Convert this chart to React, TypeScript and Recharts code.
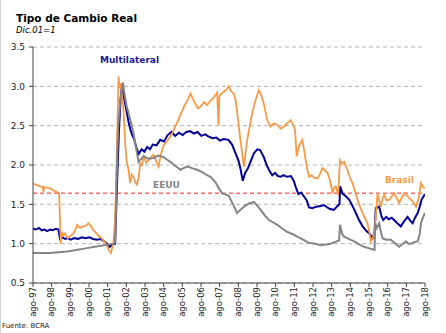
import React from 'react';
import { LineChart, Line, XAxis, YAxis, CartesianGrid, ReferenceLine } from 'recharts';

const tickLabels = ['ago-97','ago-98','ago-99','ago-00','ago-01','ago-02','ago-03','ago-04','ago-05','ago-06','ago-07','ago-08','ago-09','ago-10','ago-11','ago-12','ago-13','ago-14','ago-15','ago-16','ago-17','ago-18'];
const yTicks = [0.5, 1.0, 1.5, 2.0, 2.5, 3.0, 3.5];
const referenceLevel = 1.64;

const multilateral: [number, number][] = [
[1997.58,1.19],[1997.75,1.18],[1997.9,1.20],[1998.05,1.17],[1998.2,1.18],[1998.35,1.16],[1998.5,1.18],[1998.65,1.17],[1998.8,1.19],[1998.95,1.18],[1999.03,1.06],[1999.15,1.08],[1999.3,1.06],[1999.45,1.07],[1999.6,1.05],[1999.8,1.07],[2000.0,1.06],[2000.2,1.08],[2000.4,1.07],[2000.6,1.08],[2000.8,1.06],[2001.0,1.05],[2001.2,1.06],[2001.4,1.03],[2001.55,1.00],[2001.7,0.96],[2001.85,0.99],[2001.98,1.0],[2002.05,1.5],[2002.12,2.0],[2002.2,2.5],[2002.28,2.85],[2002.35,3.02],[2002.42,2.9],[2002.5,2.8],[2002.6,2.68],[2002.7,2.55],[2002.8,2.45],[2002.9,2.38],[2003.0,2.33],[2003.12,2.22],[2003.25,2.14],[2003.4,2.20],[2003.55,2.17],[2003.7,2.23],[2003.85,2.20],[2004.0,2.26],[2004.2,2.25],[2004.4,2.32],[2004.6,2.30],[2004.8,2.38],[2005.0,2.42],[2005.2,2.37],[2005.4,2.41],[2005.6,2.38],[2005.8,2.42],[2006.0,2.43],[2006.2,2.40],[2006.4,2.42],[2006.6,2.37],[2006.8,2.39],[2007.0,2.36],[2007.2,2.34],[2007.4,2.35],[2007.6,2.31],[2007.8,2.33],[2008.05,2.32],[2008.25,2.26],[2008.43,2.15],[2008.6,2.05],[2008.7,1.95],[2008.82,1.80],[2008.95,1.90],[2009.1,1.96],[2009.25,2.05],[2009.42,2.15],[2009.6,2.20],[2009.75,2.19],[2009.95,2.10],[2010.1,2.00],[2010.22,1.94],[2010.4,1.87],[2010.55,1.90],[2010.7,1.86],[2010.85,1.85],[2011.0,1.87],[2011.2,1.85],[2011.4,1.86],[2011.55,1.80],[2011.66,1.72],[2011.8,1.63],[2011.95,1.65],[2012.1,1.60],[2012.25,1.55],[2012.37,1.46],[2012.55,1.45],[2012.75,1.47],[2013.0,1.48],[2013.18,1.49],[2013.35,1.46],[2013.5,1.44],[2013.7,1.43],[2013.9,1.48],[2014.0,1.50],[2014.04,1.73],[2014.16,1.64],[2014.35,1.60],[2014.52,1.56],[2014.7,1.48],[2014.88,1.39],[2015.05,1.30],[2015.24,1.22],[2015.45,1.16],[2015.6,1.13],[2015.77,1.07],[2015.88,1.15],[2015.95,1.45],[2016.13,1.47],[2016.25,1.35],[2016.35,1.30],[2016.5,1.34],[2016.65,1.31],[2016.8,1.33],[2016.93,1.30],[2017.1,1.26],[2017.29,1.22],[2017.45,1.28],[2017.65,1.34],[2017.8,1.29],[2017.92,1.26],[2018.05,1.33],[2018.19,1.39],[2018.3,1.47],[2018.4,1.56],[2018.5,1.60],[2018.58,1.63]
];

const brasil: [number, number][] = [
[1997.58,1.76],[1997.75,1.75],[1997.95,1.73],[1998.1,1.72],[1998.14,1.66],[1998.18,1.72],[1998.35,1.71],[1998.55,1.70],[1998.7,1.67],[1998.85,1.66],[1998.98,1.64],[1999.03,1.30],[1999.07,1.00],[1999.12,1.15],[1999.2,1.10],[1999.3,1.13],[1999.45,1.07],[1999.6,1.10],[1999.75,1.13],[1999.9,1.20],[1999.95,1.24],[2000.1,1.20],[2000.28,1.22],[2000.45,1.23],[2000.55,1.26],[2000.7,1.22],[2000.82,1.17],[2000.95,1.14],[2001.1,1.10],[2001.25,1.07],[2001.4,1.03],[2001.55,0.97],[2001.65,0.92],[2001.76,0.88],[2001.88,0.99],[2001.98,1.3],[2002.03,1.7],[2002.08,2.2],[2002.13,2.75],[2002.17,3.12],[2002.22,2.98],[2002.28,3.04],[2002.36,2.85],[2002.43,2.70],[2002.52,2.28],[2002.6,2.05],[2002.7,1.94],[2002.79,1.77],[2002.88,1.88],[2002.97,1.85],[2003.06,1.78],[2003.15,1.75],[2003.25,1.85],[2003.33,2.02],[2003.42,2.00],[2003.51,2.11],[2003.65,2.03],[2003.78,2.06],[2003.9,2.10],[2004.04,2.13],[2004.18,2.05],[2004.31,1.98],[2004.45,2.15],[2004.58,2.25],[2004.75,2.30],[2004.94,2.36],[2005.08,2.42],[2005.21,2.49],[2005.35,2.56],[2005.48,2.64],[2005.6,2.70],[2005.75,2.78],[2005.9,2.84],[2006.02,2.91],[2006.15,2.84],[2006.28,2.78],[2006.42,2.72],[2006.55,2.74],[2006.75,2.80],[2006.91,2.76],[2007.1,2.82],[2007.27,2.86],[2007.45,2.92],[2007.52,2.50],[2007.57,2.88],[2007.8,2.93],[2007.95,2.96],[2008.07,3.0],[2008.2,2.94],[2008.35,2.90],[2008.43,2.83],[2008.52,2.68],[2008.61,2.49],[2008.7,2.30],[2008.79,2.15],[2008.88,1.98],[2008.97,2.15],[2009.06,2.32],[2009.2,2.50],[2009.33,2.66],[2009.5,2.82],[2009.68,2.95],[2009.82,2.88],[2009.95,2.78],[2010.13,2.57],[2010.31,2.49],[2010.5,2.53],[2010.67,2.51],[2010.85,2.46],[2011.03,2.49],[2011.2,2.53],[2011.39,2.57],[2011.5,2.52],[2011.62,2.45],[2011.71,2.11],[2011.85,2.25],[2012.01,2.32],[2012.1,2.20],[2012.19,2.06],[2012.3,1.92],[2012.37,1.85],[2012.5,1.87],[2012.65,1.84],[2012.82,1.83],[2012.95,1.88],[2013.09,1.96],[2013.22,1.93],[2013.36,1.90],[2013.5,1.80],[2013.63,1.64],[2013.72,1.72],[2013.8,1.73],[2013.93,1.62],[2014.03,2.06],[2014.12,2.02],[2014.25,2.04],[2014.35,1.98],[2014.43,1.94],[2014.55,1.85],[2014.7,1.77],[2014.85,1.65],[2014.97,1.56],[2015.1,1.47],[2015.24,1.39],[2015.38,1.32],[2015.5,1.26],[2015.6,1.15],[2015.68,1.03],[2015.78,1.08],[2015.86,1.13],[2015.95,1.35],[2016.04,1.64],[2016.13,1.55],[2016.22,1.47],[2016.32,1.58],[2016.4,1.62],[2016.52,1.55],[2016.67,1.56],[2016.8,1.60],[2016.93,1.64],[2017.07,1.58],[2017.2,1.52],[2017.33,1.58],[2017.47,1.64],[2017.65,1.60],[2017.83,1.56],[2017.97,1.52],[2018.1,1.47],[2018.25,1.58],[2018.37,1.77],[2018.47,1.72],[2018.58,1.71]
];

const eeuu: [number, number][] = [
[1997.58,0.88],[1998.0,0.88],[1998.5,0.88],[1998.95,0.89],[1999.4,0.90],[1999.9,0.92],[2000.4,0.94],[2000.9,0.96],[2001.4,0.98],[2001.9,1.00],[2001.99,1.02],[2002.03,1.5],[2002.08,2.0],[2002.15,2.5],[2002.25,2.8],[2002.33,2.95],[2002.4,3.05],[2002.5,2.88],[2002.6,2.75],[2002.7,2.66],[2002.82,2.55],[2002.97,2.40],[2003.1,2.22],[2003.24,2.04],[2003.38,2.08],[2003.51,2.11],[2003.75,2.08],[2004.04,2.09],[2004.3,2.12],[2004.58,2.10],[2004.75,2.07],[2004.94,2.04],[2005.2,1.99],[2005.48,1.94],[2005.65,1.96],[2005.84,1.98],[2006.1,1.96],[2006.37,1.94],[2006.65,1.91],[2006.91,1.87],[2007.09,1.85],[2007.36,1.78],[2007.55,1.70],[2007.72,1.64],[2008.07,1.61],[2008.3,1.50],[2008.52,1.39],[2008.65,1.42],[2008.79,1.45],[2009.0,1.49],[2009.15,1.51],[2009.42,1.53],[2009.6,1.48],[2009.78,1.43],[2010.0,1.36],[2010.22,1.30],[2010.45,1.27],[2010.67,1.24],[2010.95,1.19],[2011.2,1.15],[2011.5,1.12],[2011.74,1.09],[2012.05,1.05],[2012.37,1.01],[2012.7,1.00],[2012.99,0.98],[2013.3,0.99],[2013.53,1.00],[2013.75,1.02],[2013.98,1.04],[2014.03,1.24],[2014.15,1.12],[2014.25,1.09],[2014.5,1.06],[2014.79,1.03],[2015.05,0.99],[2015.32,0.96],[2015.6,0.94],[2015.88,0.92],[2015.92,1.26],[2016.0,1.20],[2016.13,1.26],[2016.22,1.15],[2016.31,1.07],[2016.5,1.05],[2016.76,1.05],[2016.95,1.01],[2017.2,0.96],[2017.4,1.00],[2017.56,1.03],[2017.7,1.00],[2017.83,1.00],[2018.0,1.02],[2018.19,1.03],[2018.3,1.12],[2018.37,1.26],[2018.47,1.33],[2018.58,1.39]
];

const startYear = 1997 + 7 / 12;
const tickPositions = tickLabels.map((_, i) => startYear + i);
const labelAt = (t: number) => {
  const i = tickPositions.findIndex((p) => Math.abs(p - t) < 0.01);
  return i >= 0 ? tickLabels[i] : '';
};

function buildTable() {
  const rows = new Map<number, any>();
  const add = (series: [number, number][], key: string) => {
    series.forEach(([t, v]) => {
      const row = rows.get(t) || { t };
      row[key] = v;
      rows.set(t, row);
    });
  };
  add(multilateral, 'multilateral');
  add(brasil, 'brasil');
  add(eeuu, 'eeuu');
  return Array.from(rows.values()).sort((a, b) => a.t - b.t);
}
const table = buildTable();

const FONT = "'DejaVu Sans', Verdana, sans-serif";

const XTick = (props: any) => {
  const { x, y, payload } = props;
  return (
    <text
      x={x}
      y={y}
      transform={`rotate(-90, ${x}, ${y})`}
      textAnchor="end"
      dy="0.33em"
      fontSize={8.5}
      fontFamily={FONT}
      fill="#222"
    >
      {labelAt(payload.value)}
    </text>
  );
};

export default function App() {
  return (
    <div style={{ position: 'absolute', left: 0, top: 0, width: 446, height: 333, background: '#fff' }}>
      <LineChart
        width={446}
        height={333}
        data={table}
        margin={{ top: 47, right: 21, left: 0, bottom: 0 }}
      >
        <CartesianGrid vertical={false} stroke="#b4b4b4" strokeDasharray="4 3" />
        <XAxis
          dataKey="t"
          type="number"
          domain={[startYear, startYear + 21]}
          ticks={tickPositions}
          interval={0}
          allowDataOverflow
          height={50}
          tickSize={4}
          tickMargin={0}
          stroke="#444"
          tick={<XTick />}
        />
        <YAxis
          type="number"
          domain={[0.5, 3.5]}
          ticks={yTicks}
          interval={0}
          width={33}
          tickSize={4}
          tickMargin={4}
          stroke="#444"
          tickFormatter={(v: number) => v.toFixed(1)}
          tick={{ fontSize: 9, fontFamily: FONT, fill: '#222' }}
        />
        <ReferenceLine y={referenceLevel} stroke="#ff6b6b" strokeWidth={1.5} strokeDasharray="4 3" />
        <Line type="linear" dataKey="multilateral" stroke="#000099" strokeWidth={2} dot={false} connectNulls isAnimationActive={false} />
        <Line type="linear" dataKey="brasil" stroke="#f99a48" strokeWidth={1.8} dot={false} connectNulls isAnimationActive={false} />
        <Line type="linear" dataKey="eeuu" stroke="#858585" strokeWidth={2} dot={false} connectNulls isAnimationActive={false} />
      </LineChart>
      <svg width={446} height={333} style={{ position: 'absolute', left: 0, top: 0, pointerEvents: 'none' }}>
        <line x1={0.5} y1={0} x2={0.5} y2={333} stroke="#d0d0d0" />
        <text x={16} y={22} fontSize={10.5} fontWeight="bold" fontFamily={FONT} fill="#000">Tipo de Cambio Real</text>
        <text x={16} y={33} fontSize={8.5} fontStyle="italic" fontFamily={FONT} fill="#000">Dic.01=1</text>
        <text x={100} y={63} fontSize={9} fontWeight="bold" fontFamily={FONT} fill="#1a1a99">Multilateral</text>
        <text x={153} y={188} fontSize={9} fontWeight="bold" fontFamily={FONT} fill="#858585">EEUU</text>
        <text x={385} y={182.5} fontSize={9} fontWeight="bold" fontFamily={FONT} fill="#f99a48">Brasil</text>
        <text x={2} y={328} fontSize={7} fontFamily={FONT} fill="#222">Fuente: BCRA</text>
      </svg>
    </div>
  );
}
